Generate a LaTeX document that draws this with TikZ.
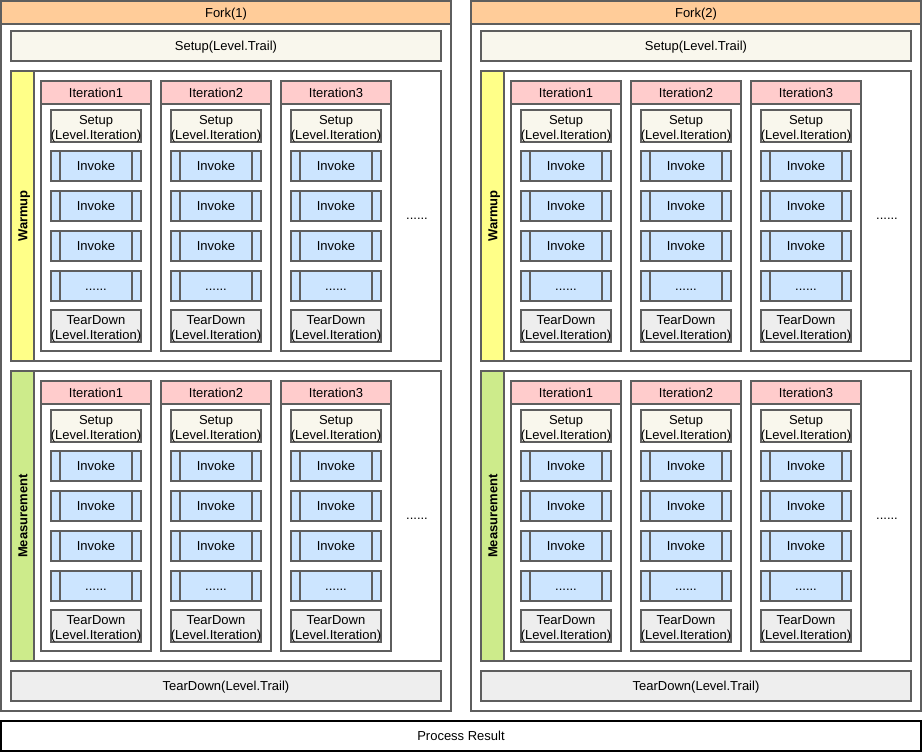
\documentclass[tikz,border=0pt]{standalone}
\usepackage{fontspec}
\setmainfont{Liberation Sans}
\definecolor{bd}{HTML}{5E5E5E}
\definecolor{forkc}{HTML}{FFCC99}
\definecolor{setupc}{HTML}{F9F7ED}
\definecolor{tdc}{HTML}{EEEEEE}
\definecolor{invc}{HTML}{CCE5FF}
\definecolor{iterc}{HTML}{FFCCCC}
\definecolor{warm}{HTML}{FFFF88}
\definecolor{meas}{HTML}{CDEB8B}
\newcommand\mydots{......}
\newcommand\toprule{\rule{0pt}{14pt}}
\begin{document}
\begin{tikzpicture}[x=1pt,y=-1pt,
  font=\fontsize{13}{15}\selectfont,
  box/.style={draw=bd, line width=1.5pt, rectangle, inner sep=0pt, outer sep=0pt, align=center},
  one/.style={text height=9.5pt, text depth=0pt},
  wbox/.style={box, fill=white},
  setupbox/.style={box, fill=setupc},
  tdbox/.style={box, fill=tdc},
  invbox/.style={box, fill=invc, one},
  iterbox/.style={box, fill=iterc, one},
  forkbox/.style={box, fill=forkc, one},
  small/.style={minimum width=90pt, minimum height=30pt}
]
\useasboundingbox (0,0) rectangle (922,752);
\fill[white] (0,0) rectangle (922,752);
\foreach \k in {1,2} {
  \pgfmathsetmacro\ox{(\k-1)*470}
  \node[wbox, minimum width=450pt, minimum height=710pt] (f\k) at (226+\ox,356) {};
  \node[forkbox, minimum width=450pt, minimum height=23pt] (f\k-h) at (226+\ox,12.5) {Fork(\k)};
  \node[setupbox, one, minimum width=430pt, minimum height=30pt] (f\k-st) at (226+\ox,46) {Setup(Level.Trail)};
  \node[tdbox, one, minimum width=430pt, minimum height=30pt] (f\k-td) at (226+\ox,686) {TearDown(Level.Trail)};
  \foreach \g/\oy/\lab/\col in {w/0/Warmup/warm, m/300/Measurement/meas} {
    \node[wbox, minimum width=430pt, minimum height=290pt] (f\k-\g) at (226+\ox,216+\oy) {};
    \node[box, fill=\col, minimum width=23pt, minimum height=290pt] (f\k-\g-s) at (22.5+\ox,216+\oy) {};
    \node[rotate=90, one, font=\fontsize{13}{15}\selectfont\bfseries] (f\k-\g-l) at (f\k-\g-s.center) {\lab};
    \node[one] (f\k-\g-dots) at (417+\ox,215+\oy) {\mydots};
    \foreach \i in {1,2,3} {
      \pgfmathsetmacro\cx{41+120*(\i-1)+\ox+55}
      \node[wbox, minimum width=110pt, minimum height=270pt] (f\k-\g-i\i) at (\cx,216+\oy) {};
      \node[iterbox, minimum width=110pt, minimum height=23pt] (f\k-\g-i\i-h) at (\cx,92.5+\oy) {Iteration\i};
      \node[setupbox, small] (f\k-\g-i\i-s) at (\cx,126+\oy) {\toprule Setup\\(Level.Iteration)};
      \foreach \r/\t in {1/Invoke,2/Invoke,3/Invoke,4/\mydots} {
        \node[invbox, small] (f\k-\g-i\i-v\r) at (\cx,126+40*\r+\oy) {\t};
        \draw[draw=bd, line width=1.5pt] ([xshift=9pt]f\k-\g-i\i-v\r.north west) -- ([xshift=9pt]f\k-\g-i\i-v\r.south west);
        \draw[draw=bd, line width=1.5pt] ([xshift=-9pt]f\k-\g-i\i-v\r.north east) -- ([xshift=-9pt]f\k-\g-i\i-v\r.south east);
      }
      \node[tdbox, small] (f\k-\g-i\i-t) at (\cx,326+\oy) {\toprule TearDown\\(Level.Iteration)};
    }
  }
}
\node[box, one, draw=black, fill=white, minimum width=920pt, minimum height=30pt] (res) at (461,736) {Process Result};
\end{tikzpicture}
\end{document}
